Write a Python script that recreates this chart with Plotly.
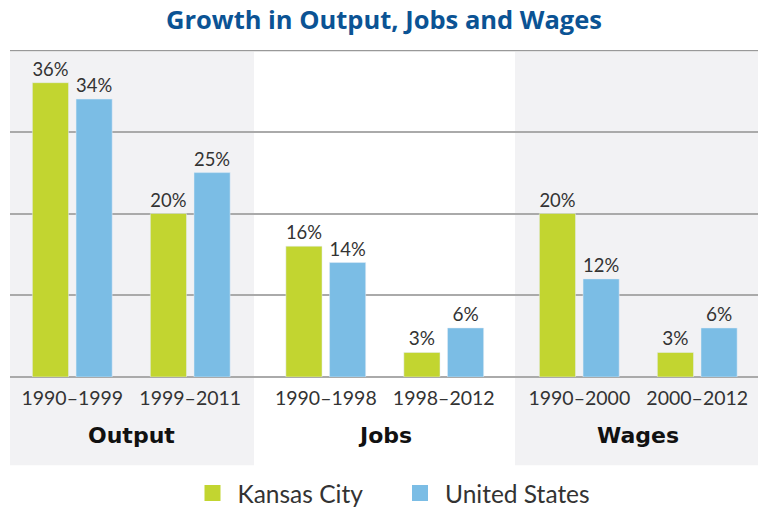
import plotly.graph_objects as go

periods = ["1990–1999", "1999–2011", "1990–1998", "1998–2012", "1990–2000", "2000–2012"]
sections = ["Output", "Jobs", "Wages"]
section_of_period = [0, 0, 1, 1, 2, 2]
kansas_city = [36, 20, 16, 3, 20, 3]
united_states = [34, 25, 14, 6, 12, 6]

GREEN = "#C2D530"
BLUE = "#7BBDE5"
PANEL = "#F2F2F4"
TEXT = "#333333"
FONT = "Lato"

# x positions: unit spacing within section, extra gap between sections (layout)
SECTION_GAP = 0.149
xpos = [i + SECTION_GAP * s for i, s in enumerate(section_of_period)]

fig = go.Figure()
fig.add_trace(go.Bar(
    x=xpos, y=kansas_city, name="Kansas City", marker_color=GREEN,
    text=[f"{v}%" for v in kansas_city], textposition="outside",
    textfont=dict(size=19, color=TEXT, family=FONT), cliponaxis=False,
    showlegend=False, hoverinfo="skip",
))
fig.add_trace(go.Bar(
    x=xpos, y=united_states, name="United States", marker_color=BLUE,
    text=[f"{v}%" for v in united_states], textposition="outside",
    textfont=dict(size=19, color=TEXT, family=FONT), cliponaxis=False,
    showlegend=False, hoverinfo="skip",
))
# legend entries
fig.add_trace(go.Scatter(x=[None], y=[None], mode="markers", name="Kansas City",
                         marker=dict(symbol="square", size=21, color=GREEN)))
fig.add_trace(go.Scatter(x=[None], y=[None], mode="markers", name="United States",
                         marker=dict(symbol="square", size=21, color=BLUE)))

x_lo, x_hi = -0.528, xpos[-1] + 0.515

shapes = []
annotations = []
for s, name in enumerate(sections):
    idx = [i for i, v in enumerate(section_of_period) if v == s]
    left = max(xpos[idx[0]] - 0.545, x_lo)
    right = min(xpos[idx[-1]] + 0.54, x_hi)
    if s != 1:
        shapes.append(dict(type="rect", xref="x", yref="paper", x0=left, x1=right,
                           y0=-0.27, y1=0.995, fillcolor=PANEL, line_width=0, layer="below"))
    center = (xpos[idx[0]] + xpos[idx[-1]]) / 2
    annotations.append(dict(x=center, xref="x", y=-0.18, yref="paper", text=f"<b>{name}</b>",
                            showarrow=False, font=dict(size=22, color="#111111", family="DejaVu Sans"),
                            yanchor="middle"))

fig.update_layout(
    width=758, height=516,
    margin=dict(l=10, r=0, t=50, b=136),
    paper_bgcolor="white", plot_bgcolor="rgba(0,0,0,0)",
    barmode="group", bargap=0.26, bargroupgap=0.172,
    title=dict(text="<b>Growth in Output, Jobs and Wages</b>", x=0.5, xanchor="center",
               y=0.962, yanchor="middle", xref="paper",
               font=dict(size=25.5, color="#0B5394", family="Open Sans")),
    xaxis=dict(range=[x_lo, x_hi], tickmode="array", tickvals=xpos, ticktext=periods,
               tickfont=dict(size=19.5, color=TEXT, family=FONT), showgrid=False,
               zeroline=False, showline=False, ticks="outside", ticklen=4,
               tickcolor="rgba(0,0,0,0)"),
    yaxis=dict(range=[0, 40], dtick=10, showgrid=True, gridcolor="#AAAAAA", gridwidth=1.5,
               showticklabels=False, zeroline=True, zerolinecolor="#AAAAAA", zerolinewidth=1.5,
               showline=False, ticks=""),
    shapes=shapes + [dict(type="line", xref="paper", yref="y", x0=0, x1=1, y0=40, y1=40,
                          line=dict(color="#999999", width=2.5))],
    annotations=annotations,
    legend=dict(orientation="h", x=0.2373, xanchor="left", y=-0.355, yanchor="middle",
                font=dict(size=24.5, color=TEXT, family=FONT), itemwidth=40,
                tracegroupgap=0, entrywidthmode="pixels", entrywidth=152.5),
    font=dict(family=FONT),
    hovermode=False,
)

fig.write_html("out.html", config={"displayModeBar": False},
               post_script="document.body.style.margin='0';")
